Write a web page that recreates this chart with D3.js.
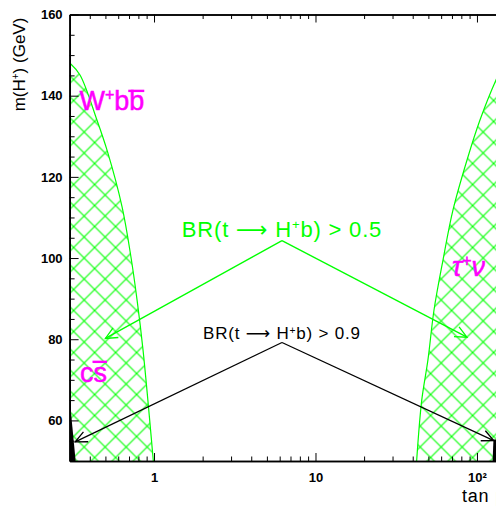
<!DOCTYPE html>
<meta charset="utf-8">
<script src="https://d3js.org/d3.v7.min.js"></script>
<style>
    body{margin:0;background:#fff;}
    svg{font-family:"Liberation Sans",Arial,sans-serif;}
</style>
<body>
    <div id="chart"></div>
    <script>
        // tan(beta) / m(H+) regions
        const leftEdgeTan=[0.302,0.348,0.443,0.515,0.634,0.720,0.785,0.855,0.99];
        const leftEdgeMass=[148,145.1,134.0,126.2,112.6,100.2,89.7,77.3,50];
        const rightEdgeTan=[42.3,45.5,49.7,54.2,61.6,71.0,86.7,104.4,131,150];
        const rightEdgeMass=[50,65,74.9,87.2,99.5,111.8,124.1,134,143.8,148.5];
        const blackLeftTan=[0.3,0.3,0.327];
        const blackLeftMass=[65.5,50,50];
        const blackRightTan=[125,126.5,150,150];
        const blackRightMass=[50,55.3,55.3,50];

        // BR annotations: label, apex, arrow tips
        const brText=["0.5","0.9"];
        const brColor=["#00ff00","#000"];
        const brApexTan=[6.2,6.2];
        const brApexMass=[104.3,79.2];
        const brLeftTan=[0.5,0.325];
        const brLeftMass=[80.2,54.7];
        const brRightTan=[86.7,127];
        const brRightMass=[80.5,55];

        const xMajor=[1,10,100];
        const xMinor=[0.4,0.5,0.6,0.7,0.8,0.9,2,3,4,5,6,7,8,9,20,30,40,50,60,70,80,90];
        const yMajor=[60,80,100,120,140,160];
        const yMinor=d3.range(55,160,5).filter(d=>d%20!==0);

        const margin={top:14.5,left:69.6,bottom:45},
            width=435.8,
            height=506-margin.top-margin.bottom;

        const svg=d3.select("#chart")
            .append("svg")
                .attr("width",496)
                .attr("height",506)
                .style("display","block")
                .style("background","#fff");

        const defs=svg.append("defs");
        defs.append("clipPath").attr("id","plotClip")
            .append("rect").attr("width",width).attr("height",height);
        defs.append("pattern")
            .attr("id","hatch")
            .attr("patternUnits","userSpaceOnUse")
            .attr("width",21).attr("height",21)
            .attr("x",4).attr("y",2)
            .append("path")
                .attr("d","M-1,-1L22,22M22,-1L-1,22")
                .attr("stroke","#00ff00")
                .attr("stroke-width",1.1)
                .attr("fill","none");

        const g=svg.append("g")
            .attr("transform",`translate(${margin.left},${margin.top})`);

        const x=d3.scaleLog().domain([0.3,150]).range([0,width]);
        const y=d3.scaleLinear().domain([50,160]).range([height,0]);

        const plot=g.append("g").attr("clip-path","url(#plotClip)");

        const curve=d3.line().x(d=>x(d[0])).y(d=>y(d[1])).curve(d3.curveCatmullRom);
        const poly=d3.line().x(d=>x(d[0])).y(d=>y(d[1]));

        const leftPts=leftEdgeTan.map((t,i)=>[t,leftEdgeMass[i]]);
        const rightPts=rightEdgeTan.map((t,i)=>[t,rightEdgeMass[i]]);

        // hatched regions
        plot.append("path")
            .attr("d",curve(leftPts)+"L"+x(0.3)+","+y(50)+"Z")
            .attr("fill","url(#hatch)");
        plot.append("path")
            .attr("d",curve(rightPts)+"L"+x(150)+","+y(50)+"Z")
            .attr("fill","url(#hatch)");
        plot.selectAll("path.edge")
            .data([leftPts,rightPts])
            .join("path")
                .attr("class","edge")
                .attr("d",curve)
                .attr("fill","none")
                .attr("stroke","#00ff00")
                .attr("stroke-width",1.2);

        // BR > 0.9 slivers
        plot.selectAll("path.black")
            .data([blackLeftTan.map((t,i)=>[t,blackLeftMass[i]]),blackRightTan.map((t,i)=>[t,blackRightMass[i]])])
            .join("path")
                .attr("class","black")
                .attr("d",d=>poly(d)+"Z")
                .attr("fill","#000");

        // arrows
        function arrow(sel,x0,y0,x1,y1,color){
            sel.append("line")
                .attr("x1",x0).attr("y1",y0).attr("x2",x1).attr("y2",y1)
                .attr("stroke",color).attr("stroke-width",1.3);
            const a=Math.atan2(y0-y1,x0-x1),len=13,h=25*Math.PI/180;
            sel.append("path")
                .attr("d",`M${x1+len*Math.cos(a-h)},${y1+len*Math.sin(a-h)}L${x1},${y1}L${x1+len*Math.cos(a+h)},${y1+len*Math.sin(a+h)}`)
                .attr("fill","none").attr("stroke",color).attr("stroke-width",1.3);
        }
        const ann=g.append("g");
        brText.forEach((t,i)=>{
            const ax=x(brApexTan[i]),ay=y(brApexMass[i]);
            arrow(ann,ax,ay,x(brLeftTan[i]),y(brLeftMass[i]),brColor[i]);
            arrow(ann,ax,ay,x(brRightTan[i]),y(brRightMass[i]),brColor[i]);
            const fs=i===0?22:17;
            const txt=ann.append("text")
                .attr("x",ax).attr("y",ay-(i===0?4:3))
                .attr("text-anchor","middle")
                .attr("fill",brColor[i])
                .style("letter-spacing","0.8px")
                .style("font-size",fs+"px");
            txt.append("tspan").text("BR(t ");
            txt.append("tspan").style("font-family","DejaVu Sans").text("\u27f6");
            txt.append("tspan").text(" H");
            txt.append("tspan").attr("dy",-fs*0.35).style("font-size",(fs*0.6)+"px").text("+");
            txt.append("tspan").attr("dy",fs*0.35).text("b) > "+t);
        });

        // region labels
        const lab=g.append("g").attr("fill","#ff00ff").style("font-size","27px")
            .attr("stroke","#ff00ff").attr("stroke-width",0.5);
        function bar(text,idx,rise){
            const n=text.node();
            const s=n.getStartPositionOfChar(idx),e=n.getEndPositionOfChar(idx);
            lab.append("line")
                .attr("x1",s.x-1).attr("x2",e.x)
                .attr("y1",s.y-rise).attr("y2",s.y-rise)
                .attr("stroke-width",2.4);
        }
        const w=lab.append("text").attr("x",x(0.345)).attr("y",y(136.5));
        w.append("tspan").text("W");
        w.append("tspan").attr("dy",-10).style("font-size","16px").text("+");
        w.append("tspan").attr("dy",10).text("bb");
        bar(w,3,19);
        const c=lab.append("text").attr("x",x(0.348)).attr("y",y(69.5));
        c.append("tspan").text("cs");
        bar(c,1,20);
        const tau=lab.append("text").attr("x",x(70)).attr("y",y(95.5)).style("font-style","italic");
        tau.append("tspan").text("\u03c4");
        tau.append("tspan").attr("dy",-10).style("font-size","16px").text("+");
        tau.append("tspan").attr("dy",10).text("\u03bd");

        // axes
        function styleAxis(a){
            a.select(".domain").attr("stroke-width",1.6);
            a.selectAll(".tick line").attr("stroke-width",1);
            a.selectAll("text").style("font-size","13px").style("font-weight","bold").attr("fill","#000");
        }
        g.append("g").attr("transform",`translate(0,${height})`)
            .call(d3.axisBottom(x).tickValues(xMajor).tickSizeInner(-8).tickSizeOuter(0).tickPadding(12)
                .tickFormat(d=>d===100?"10\u00b2":String(d)))
            .call(styleAxis);
        g.append("g").attr("transform",`translate(0,${height})`)
            .call(d3.axisBottom(x).tickValues(xMinor).tickSizeInner(-4.5).tickSizeOuter(0).tickFormat(""))
            .call(styleAxis);
        g.append("g")
            .call(d3.axisTop(x).tickValues(xMajor).tickSizeInner(-8).tickSizeOuter(0).tickFormat(""))
            .call(styleAxis);
        g.append("g")
            .call(d3.axisTop(x).tickValues(xMinor).tickSizeInner(-4.5).tickSizeOuter(0).tickFormat(""))
            .call(styleAxis);
        g.append("g")
            .call(d3.axisLeft(y).tickValues(yMajor).tickSizeInner(-9).tickSizeOuter(0).tickPadding(7))
            .call(styleAxis);
        g.append("g")
            .call(d3.axisLeft(y).tickValues(yMinor).tickSizeInner(-5).tickSizeOuter(0).tickFormat(""))
            .call(styleAxis);
        g.append("g").attr("transform",`translate(${width},0)`)
            .call(d3.axisRight(y).tickValues(yMajor).tickSizeInner(-9).tickSizeOuter(0).tickFormat(""))
            .call(styleAxis);

        // axis titles
        const yt=svg.append("text")
            .attr("transform",`translate(25,${margin.top+50}) rotate(-90)`)
            .attr("text-anchor","middle")
            .style("font-size","17px");
        yt.append("tspan").text("m(H");
        yt.append("tspan").attr("dy",-6).style("font-size","10px").text("+");
        yt.append("tspan").attr("dy",6).text(") (GeV)");
        svg.append("text")
            .attr("x",462).attr("y",502)
            .style("font-size","18px")
            .style("letter-spacing","0.8px")
            .text("tan \u03b2");
    </script>
</body>
